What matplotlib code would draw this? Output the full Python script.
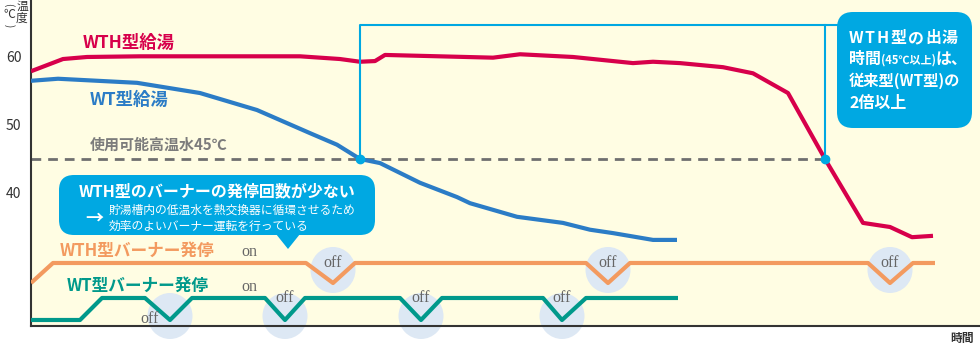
import numpy as np
import matplotlib
matplotlib.use("Agg")
import matplotlib.pyplot as plt
from matplotlib.patches import FancyBboxPatch, Ellipse, Polygon
from matplotlib.transforms import IdentityTransform

plt.rcParams['font.family'] = ['Noto Sans CJK JP', 'DejaVu Sans']

W, H = 980, 361

# hot water temperature (degC) over time (arbitrary units)
wth_t = [31, 63, 87, 140, 300, 340, 360, 375, 385, 493, 520, 573, 633, 653, 680,
         723, 753, 788, 825, 863, 890, 912, 933]
wth_temp = [57.9, 59.7, 60.0, 60.1, 60.1, 59.7, 59.3, 59.4, 60.3, 59.9, 60.4, 60.0,
            59.1, 59.3, 59.1, 58.5, 57.6, 54.7, 45.0, 35.6, 35.0, 33.5, 33.7]
wt_t = [31, 58, 137, 200, 257, 310, 337, 360, 380, 420, 457, 470, 517, 563, 590,
        613, 653, 677]
wt_temp = [56.5, 56.8, 56.2, 54.7, 52.2, 48.8, 47.1, 45.0, 44.4, 41.5, 39.4, 38.5,
           36.5, 35.6, 34.6, 34.1, 33.1, 33.1]
usable_temp = 45

# burner on/off (1 = on, 0 = off)
wth_burner_t = [31, 53, 306, 333, 355, 586, 608, 630, 868, 890, 913, 935]
wth_burner_on = [0, 1, 1, 0, 1, 1, 0, 1, 1, 0, 1, 1]
wt_burner_t = [31, 80, 102, 145, 170, 192, 265, 285, 305, 400, 421, 442, 543, 562, 586, 678]
wt_burner_on = [0, 0, 1, 1, 0, 1, 1, 0, 1, 1, 0, 1, 1, 0, 1, 1]

RED = '#d7004b'
BLUE = '#2b7cc6'
ORANGE = '#f39a5f'
TEAL = '#00998b'
CYAN = '#00a8e2'
GRAY = '#6f6f6f'
CIRCLE = '#dde8f4'

fig = plt.figure(figsize=(W / 100, H / 100), dpi=100)
ax = fig.add_axes([31 / W, (H - 326) / H, (W - 31) / W, 326 / H])
ax.set_facecolor('#fffde3')
ax.set_xlim(31, 980)
ax.set_ylim(20.44, 68.38)
for s in ['top', 'right']:
    ax.spines[s].set_visible(False)
for s in ['left', 'bottom']:
    ax.spines[s].set_color('#333333')
    ax.spines[s].set_linewidth(1.5)
ax.set_xticks([])
ax.set_yticks([40, 50, 60])
ax.tick_params(axis='y', length=0, pad=7, labelsize=10, labelcolor='#333333')

ppd = 326 / (68.38 - 20.44)  # pixels per degree


def crossing(t, v, level):
    for i in range(1, len(t)):
        if v[i - 1] > level >= v[i]:
            return t[i - 1] + (v[i - 1] - level) / (v[i - 1] - v[i]) * (t[i] - t[i - 1])
    return None


x_wt = crossing(wt_t, wt_temp, usable_temp)
x_wth = crossing(wth_t, wth_temp, usable_temp)

# usable temperature line
ax.plot([31, x_wth], [usable_temp, usable_temp], color=GRAY, lw=2, ls=(0, (3.5, 2.5)), zorder=2)

ax.plot(wth_t, wth_temp, color=RED, lw=3, zorder=4, solid_capstyle='butt')
ax.plot(wt_t, wt_temp, color=BLUE, lw=3, zorder=4, solid_capstyle='butt')

# connector to the right callout
top = usable_temp + 134 / ppd
ax.plot([x_wt, x_wt, 840], [usable_temp, top, top], color=CYAN, lw=1.5, clip_on=False, zorder=5)
ax.plot([x_wth, x_wth], [usable_temp, top], color=CYAN, lw=1.5, clip_on=False, zorder=5)
ax.plot([x_wt, x_wth], [usable_temp, usable_temp], 'o', color=CYAN, ms=6, zorder=6)


def burner(t, on, y_off, y_on, color, circ_dy):
    t = np.array(t, dtype=float)
    on = np.array(on, dtype=float)
    y = y_off + on * (y_on - y_off)
    offs = [i for i in range(1, len(on)) if on[i] == 0 and on[i - 1] == 1]
    for i in offs:
        e = Ellipse((t[i], y_off + circ_dy), 45, 46 / ppd, color=CIRCLE, zorder=1.5,
                    clip_on=False, lw=0)
        ax.add_patch(e)
    ax.plot(t, y, color=color, lw=3, zorder=3, solid_capstyle='butt')
    return offs, t, y


wth_on_y = 60 - (263 - 57) / 6.8
wth_off_y = 60 - (283 - 57) / 6.8
wt_on_y = 60 - (298 - 57) / 6.8
wt_off_y = 60 - (320 - 57) / 6.8

offs1, t1, y1 = burner(wth_burner_t, wth_burner_on, wth_off_y, wth_on_y, ORANGE, 13 / ppd)
offs2, t2, y2 = burner(wt_burner_t, wt_burner_on, wt_off_y, wt_on_y, TEAL, 4 / ppd)

serif = dict(family='Liberation Serif', color='#666666', fontsize=11.5, ha='center', va='center')
for i in offs1:
    ax.text(t1[i], wth_on_y, 'off', zorder=7, **serif)
for k, i in enumerate(offs2):
    if k == 0:
        ax.text(t2[i] - 20, wt_off_y + 0.2, 'off', zorder=7, **serif)
    else:
        ax.text(t2[i], wt_on_y, 'off', zorder=7, **serif)


def ftext(x, y, s, **kw):
    return fig.text(x / W, 1 - y / H, s, **kw)


ftext(249, 252, 'on', **serif)
ftext(249, 287, 'on', **serif)

# series labels
ftext(83, 43, 'WTH型給湯', color=RED, fontsize=12.5, weight='bold', va='center')
ftext(90, 100, 'WT型給湯', color=BLUE, fontsize=12.5, weight='bold', va='center')
ftext(90, 145, '使用可能高温水45℃', color='#7c7c7c', fontsize=10.8, weight='bold', va='center')
ftext(60, 251, 'WTH型バーナー発停', color=ORANGE, fontsize=12, weight='bold', va='center')
ftext(67, 286, 'WT型バーナー発停', color=TEAL, fontsize=12, weight='bold', va='center')

# axis captions
ftext(9, 15, '℃', fontsize=8.5, color='#333333', ha='center', va='center')
ftext(9, 5, '(', fontsize=7, color='#333333', ha='center', va='center', rotation=-90)
ftext(9, 26, ')', fontsize=7, color='#333333', ha='center', va='center', rotation=-90)
ftext(22, 6, '温', fontsize=8.5, color='#333333', ha='center', va='center')
ftext(22, 18, '度', fontsize=8.5, color='#333333', ha='center', va='center')
ftext(962, 338, '時間', fontsize=8.5, color='#333333', ha='center', va='center', weight='bold')


def box(x0, y0, x1, y1, r):
    p = FancyBboxPatch((x0, H - y1), x1 - x0, y1 - y0,
                       boxstyle=f"round,pad=0,rounding_size={r}",
                       transform=IdentityTransform(), fc=CYAN, ec='none', zorder=8)
    fig.add_artist(p)


# right callout
box(837, 12, 972, 128, 16)
wt = dict(color='white', fontsize=11.5, weight='bold', va='center', zorder=9)
for cx, ch in zip([849, 864, 876, 890, 908, 925, 942], 'WTH型の出湯'):
    ftext(cx, 38, ch, **wt)
ftext(849, 59, '時間', **wt)
ftext(881, 60, '(45℃以上)', color='white', fontsize=8, weight='bold', va='center', zorder=9)
ftext(935, 59, 'は、', **wt)
ftext(849, 81, '従来型(WT型)の', color='white', fontsize=11, weight='bold', va='center', zorder=9)
ftext(849, 103, '2倍以上', **wt)

# left callout
box(59, 175, 375, 235, 15)
tri = Polygon([(276, H - 234), (300, H - 234), (288, H - 249)], closed=True,
              transform=IdentityTransform(), fc=CYAN, ec='none', zorder=8)
fig.add_artist(tri)
ftext(217, 191, 'WTH型のバーナーの発停回数が少ない', color='white', fontsize=11.5,
      weight='bold', ha='center', va='center', zorder=9)
ftext(94, 218, '→', color='white', fontsize=13, weight='bold', ha='center', va='center', zorder=9)
ftext(109, 210, '貯湯槽内の低温水を熱交換器に循環させるため', color='white', fontsize=8.5,
      va='center', zorder=9)
ftext(109, 226, '効率のよいバーナー運転を行っている', color='white', fontsize=8.5,
      va='center', zorder=9)

fig.savefig('out.png', dpi=100)
